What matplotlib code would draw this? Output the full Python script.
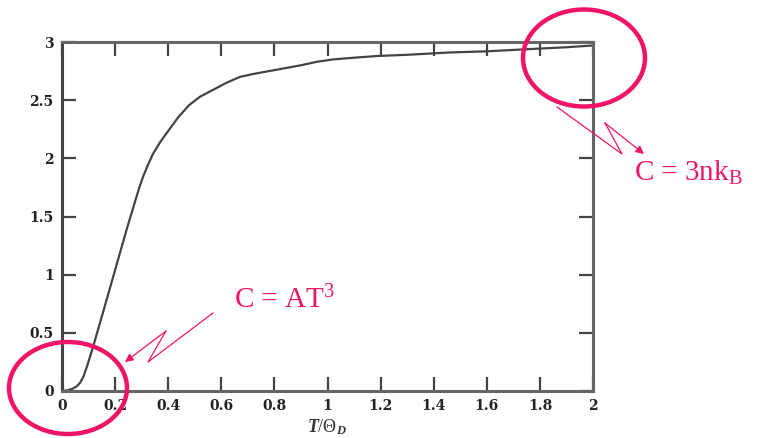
import matplotlib.pyplot as plt
from matplotlib.patches import Ellipse

# heat capacity curve
t_ratio = [0.0, 0.02, 0.04, 0.055, 0.068, 0.08, 0.094, 0.105, 0.117, 0.136,
           0.15, 0.17, 0.185, 0.2, 0.22, 0.245, 0.27, 0.29, 0.305, 0.325,
           0.343, 0.37, 0.395, 0.44, 0.48, 0.52, 0.57, 0.62, 0.67, 0.72, 0.78,
           0.84, 0.9, 0.96, 1.02, 1.1, 1.19, 1.3, 1.46, 1.6, 1.77, 1.9, 2.0]
heat_cap = [0.0, 0.005, 0.02, 0.04, 0.07, 0.12, 0.21, 0.29, 0.38, 0.53,
            0.64, 0.80, 0.92, 1.04, 1.2, 1.40, 1.59, 1.74, 1.84, 1.95,
            2.04, 2.14, 2.22, 2.36, 2.46, 2.53, 2.59, 2.65, 2.70, 2.725, 2.75,
            2.775, 2.80, 2.83, 2.85, 2.865, 2.88, 2.89, 2.91, 2.92, 2.94, 2.955,
            2.97]

x_ticks = [0, 0.2, 0.4, 0.6, 0.8, 1, 1.2, 1.4, 1.6, 1.8, 2]
x_labels = ['0', '0.2', '0.4', '0.6', '0.8', '1', '1.2', '1.4', '1.6', '1.8', '2']
y_ticks = [0, 0.5, 1, 1.5, 2, 2.5, 3]
y_labels = ['0', '0.5', '1', '1.5', '2', '2.5', '3']

W, H = 765, 438
pink = '#ee1566'

plt.rcParams['mathtext.fontset'] = 'custom'
plt.rcParams['mathtext.rm'] = 'Liberation Serif'
plt.rcParams['mathtext.it'] = 'Liberation Serif:italic:bold'

def fp(x, y):
    # pixel position -> figure fraction
    return (x / W, 1 - y / H)

fig = plt.figure(figsize=(W / 100, H / 100), dpi=100)
ax = fig.add_axes([62 / W, 1 - 391 / H, (593 - 62) / W, (391 - 42) / H])

ax.plot(t_ratio, heat_cap, color='#444444', lw=1.6)
ax.set_xlim(0, 2)
ax.set_ylim(0, 3)

ax.set_xticks(x_ticks)
ax.set_xticklabels(x_labels)
ax.set_yticks(y_ticks)
ax.set_yticklabels(y_labels)
ax.tick_params(direction='in', length=10, width=1.6, color='#444444',
               top=True, right=True, labelsize=10, pad=6)
for lab in ax.get_xticklabels() + ax.get_yticklabels():
    lab.set_family('DejaVu Serif')
    lab.set_fontweight('bold')
    lab.set_color('#222222')
for s in ax.spines.values():
    s.set_color('#666666')
    s.set_linewidth(2.2)
ax.spines['left'].set_color('#444444')

fig.text(*fp(327, 427), r'$T/\Theta_D$', fontsize=13, ha='center', va='center',
         color='#333333')

# red circles
for cx, cy, w, h in [(68, 388, 118, 92), (584, 58, 122, 97)]:
    e = Ellipse(fp(cx, cy), w / W, h / H, transform=fig.transFigure,
                fill=False, ec=pink, lw=3.2)
    fig.patches.append(e)

# zigzag arrows
for pts in [[(213, 313), (148, 362), (166, 331), (125, 362)],
            [(557, 107), (622, 154), (605, 123), (644, 154)]]:
    xs = [fp(x, y)[0] for x, y in pts[:-1]]
    ys = [fp(x, y)[1] for x, y in pts[:-1]]
    fig.add_artist(plt.Line2D(xs, ys, color=pink, lw=0.9,
                              transform=fig.transFigure))
    ax.annotate('', xy=fp(*pts[-1]), xytext=fp(*pts[-2]),
                xycoords='figure fraction', textcoords='figure fraction',
                arrowprops=dict(arrowstyle='-|>', color=pink, lw=0.9,
                                mutation_scale=12, shrinkA=0, shrinkB=0))

fig.text(*fp(284, 300), r'C = AT$^3$', fontsize=21, family='Liberation Serif',
         color=pink, ha='center', va='center')
fig.text(*fp(688, 173), r'C = 3nk$_\mathregular{B}$', fontsize=21,
         family='Liberation Serif', color=pink, ha='center', va='center')

fig.savefig('out.png', dpi=100)
